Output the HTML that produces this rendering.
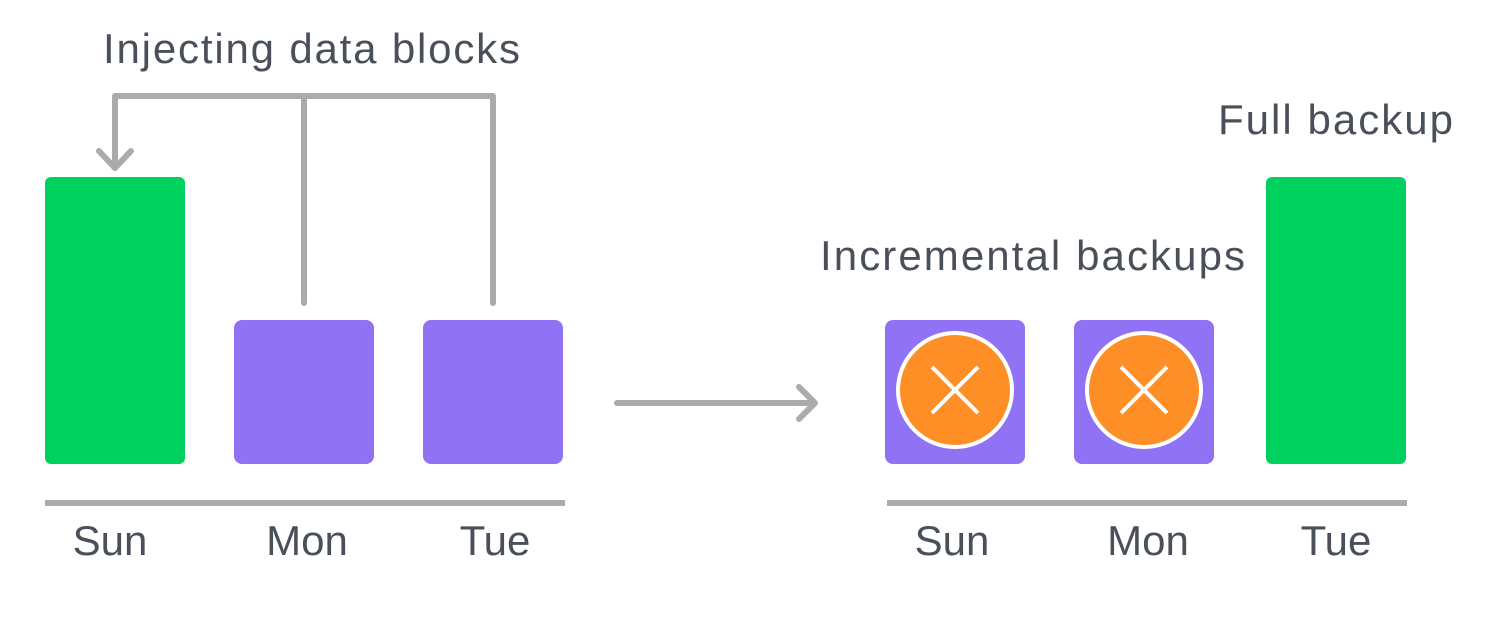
<html><body style="margin:0;background:#fff">
<svg width="1487" height="624" xmlns="http://www.w3.org/2000/svg" style="display:block">
<g fill="none" stroke="#ababab" stroke-width="6" stroke-linecap="round" stroke-linejoin="round">
<path d="M115 168 V96 H493 V303"/>
<path d="M304 96 V303"/>
<path d="M99 151 L115 168 L131 151"/>
<path d="M617 403 H815 M799 387 L815 403 L799 419"/>
<path d="M45 503 H565 M887 503 H1407" stroke-linecap="butt"/>
</g>
<rect x="45" y="177" width="140" height="287" rx="6" fill="#00d05e"/>
<rect x="1266" y="177" width="140" height="287" rx="6" fill="#00d05e"/>
<rect x="234" y="320" width="140" height="144" rx="8" fill="#8f73f4"/>
<rect x="423" y="320" width="140" height="144" rx="8" fill="#8f73f4"/>
<rect x="885" y="320" width="140" height="144" rx="8" fill="#8f73f4"/>
<rect x="1074" y="320" width="140" height="144" rx="8" fill="#8f73f4"/>
<g stroke="#fff" stroke-width="4">
<circle cx="955" cy="390" r="57" fill="#fe8f27"/>
<circle cx="1144" cy="390" r="57" fill="#fe8f27"/>
<path d="M932 367 L978 413 M978 367 L932 413 M1121 367 L1167 413 M1167 367 L1121 413"/>
</g>
<g font-family="Liberation Sans, sans-serif" font-size="42" fill="#4a505a">
<text x="103" y="63" textLength="417">Injecting data blocks</text>
<text x="1218" y="134" textLength="235">Full backup</text>
<text x="820" y="270" textLength="425">Incremental backups</text>
<text x="110" y="555" text-anchor="middle">Sun</text>
<text x="307" y="555" text-anchor="middle">Mon</text>
<text x="495" y="555" text-anchor="middle">Tue</text>
<text x="952" y="555" text-anchor="middle">Sun</text>
<text x="1148" y="555" text-anchor="middle">Mon</text>
<text x="1336" y="555" text-anchor="middle">Tue</text>
</g>
</svg>
</body></html>
